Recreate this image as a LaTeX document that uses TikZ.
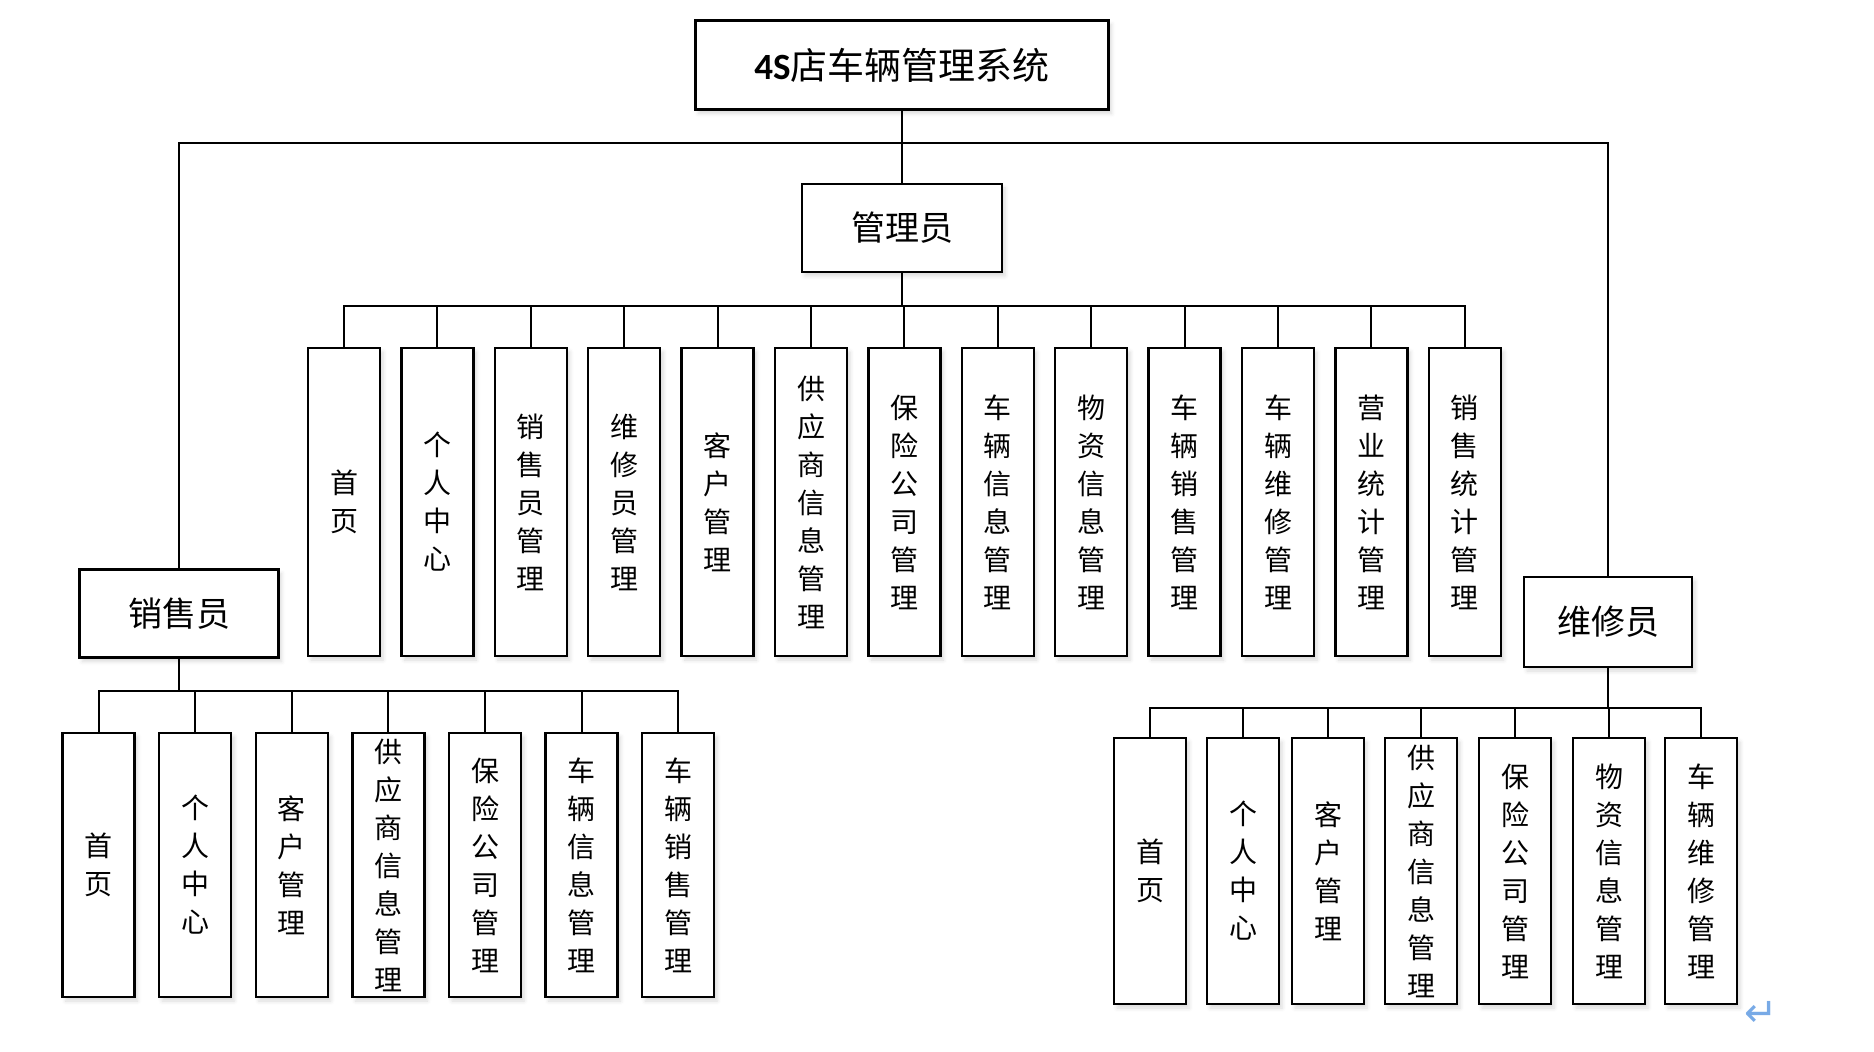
\documentclass[tikz,border=0pt]{standalone}
\usepackage{fontspec}
\usepackage{tikz}
\usetikzlibrary{positioning, shadows.blur}
\newfontfamily\cjk{Noto Sans CJK SC}
\newfontfamily\latinfont{Carlito}
\newfontfamily\symfont{DejaVu Sans}
\definecolor{markblue}{RGB}{120,170,230}

\tikzset{
  box/.style={draw, line width=1.2pt, fill=white, inner sep=0pt,
    blur shadow={shadow xshift=1.5pt, shadow yshift=-2pt, shadow blur radius=2pt, shadow opacity=15}},
  rolebox/.style={box, font=\cjk\fontsize{17}{20}\selectfont},
  leafbox/.style={box, align=center, minimum width=36pt, font=\cjk\fontsize{14}{19}\selectfont},
  link/.style={line width=1pt}
}

\begin{document}
\begin{tikzpicture}[x=0.5pt, y=-0.5pt]
    \useasboundingbox (0,0) rectangle (1874,1052);
    \node[rolebox, minimum width=206.5pt, minimum height=44.5pt, font=\cjk\fontsize{18.5}{22}\selectfont] (sys) at (902,65) {{\latinfont\bfseries 4S}店车辆管理系统};
    \node[rolebox, minimum width=100pt, minimum height=44pt] (admin) at (902,228) {管理员};
    \node[rolebox, minimum width=99.5pt, minimum height=44pt] (sales) at (179,613.5) {销售员};
    \node[rolebox, minimum width=84pt, minimum height=45pt] (repair) at (1608,622) {维修员};
    \coordinate (hub) at (902,143);
    \coordinate (abus) at (902,306);
    \coordinate (sbus) at (179,691);
    \coordinate (rbus) at (1608,708);

    \foreach \t [count=\i from 0] in {{首\\页},{个\\人\\中\\心},{销\\售\\员\\管\\理},{维\\修\\员\\管\\理},{客\\户\\管\\理},{供\\应\\商\\信\\息\\管\\理},{保\\险\\公\\司\\管\\理},{车\\辆\\信\\息\\管\\理},{物\\资\\信\\息\\管\\理},{车\\辆\\销\\售\\管\\理},{车\\辆\\维\\修\\管\\理},{营\\业\\统\\计\\管\\理},{销\\售\\统\\计\\管\\理}}
        \node[leafbox, minimum height=154pt] (a\i) at ({344+93.4*\i},502) {\t};
    \foreach \t [count=\i from 0] in {{首\\页},{个\\人\\中\\心},{客\\户\\管\\理},{供\\应\\商\\信\\息\\管\\理},{保\\险\\公\\司\\管\\理},{车\\辆\\信\\息\\管\\理},{车\\辆\\销\\售\\管\\理}}
        \node[leafbox, minimum height=132pt] (s\i) at ({98.6+96.6*\i},865) {\t};
    \foreach \x/\t [count=\i from 0] in {1150/{首\\页},1243/{个\\人\\中\\心},1328/{客\\户\\管\\理},1421/{供\\应\\商\\信\\息\\管\\理},1515/{保\\险\\公\\司\\管\\理},1609/{物\\资\\信\\息\\管\\理},1701/{车\\辆\\维\\修\\管\\理}}
        \node[leafbox, minimum height=133pt] (r\i) at (\x,871) {\t};

    \draw[link] (sys.south) -- (admin.north);
    \draw[link] (sales.north) |- (hub) -| (repair.north);
    \draw[link] (admin.south) -- (abus);
    \draw[link] (sales.south) -- (sbus);
    \draw[link] (repair.south) -- (rbus);
    \foreach \i in {0,...,12} \draw[link] (a\i.north) |- (abus);
    \foreach \i in {0,...,6} \draw[link] (s\i.north) |- (sbus);
    \foreach \i in {0,...,6} \draw[link] (r\i.north) |- (rbus);

    \node[font=\symfont\fontsize{20}{20}\selectfont, text=markblue] (mark) at (1761,1014) {↵};
\end{tikzpicture}
\end{document}
